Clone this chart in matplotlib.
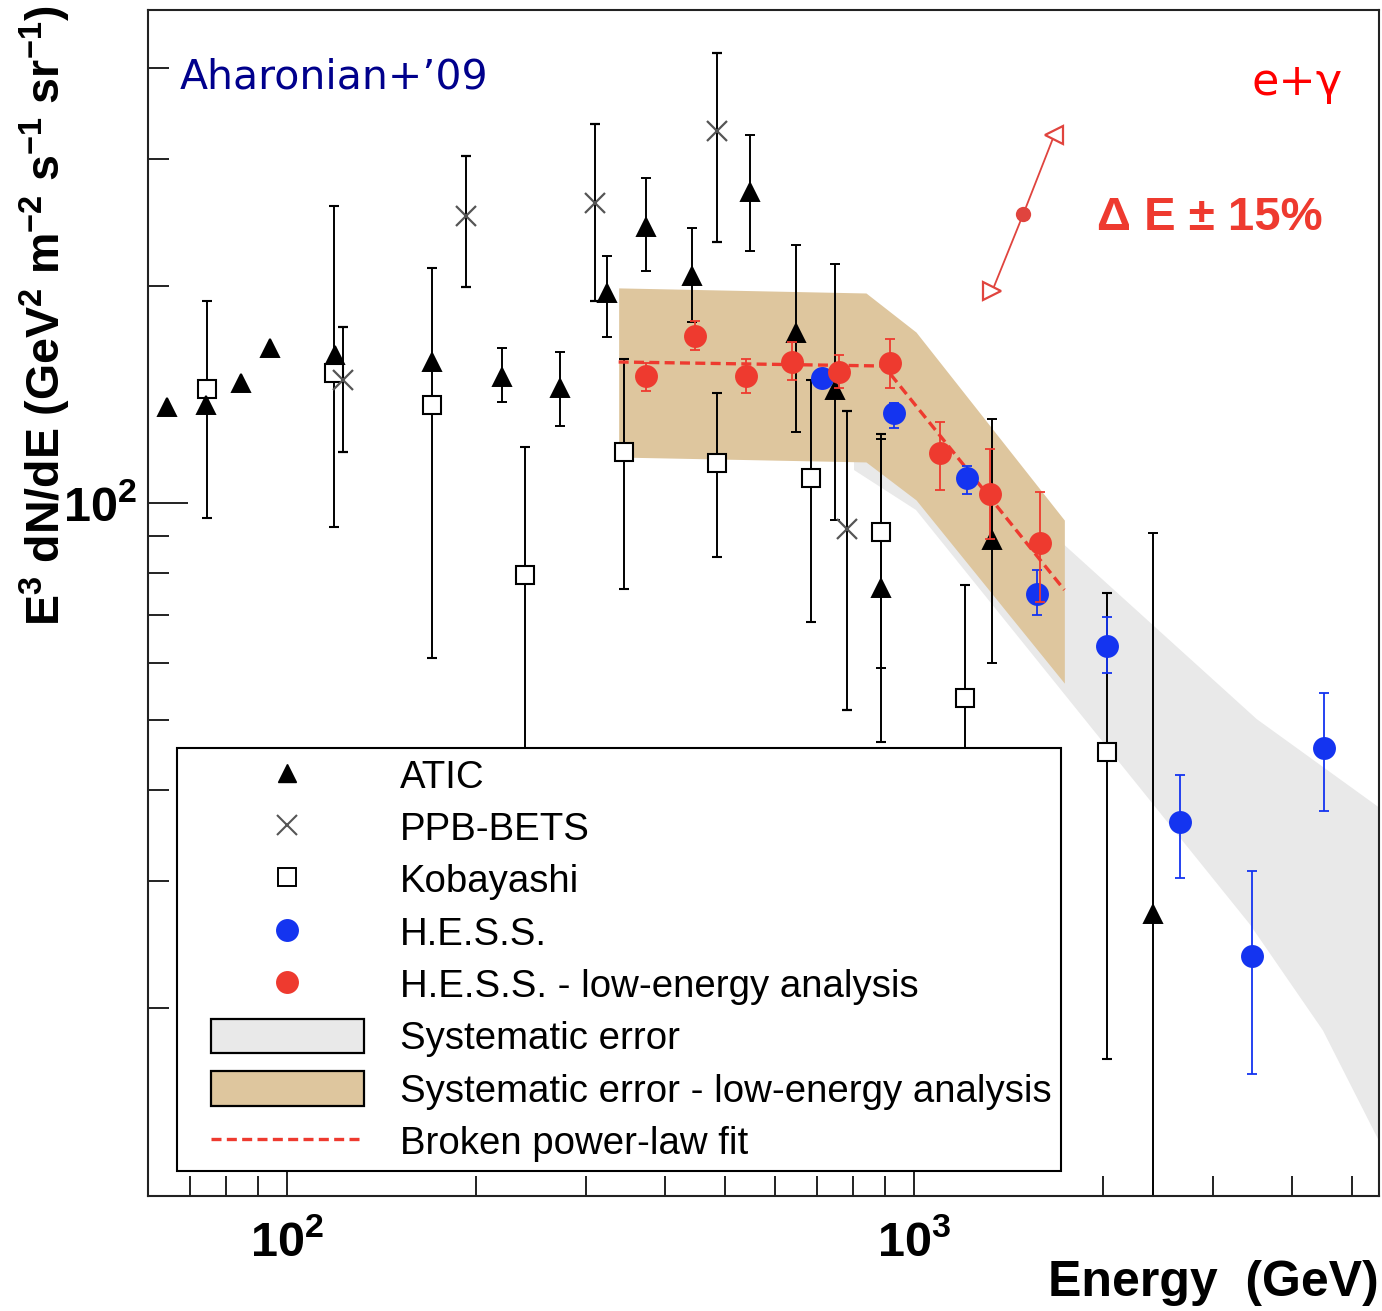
import matplotlib
matplotlib.use("Agg")
import matplotlib.pyplot as plt
import matplotlib.patches as mpatches
from matplotlib.lines import Line2D
from matplotlib.legend_handler import HandlerPatch, HandlerLine2D
from matplotlib.ticker import LogLocator, NullFormatter, FuncFormatter
import numpy as np

plt.rcParams.update({
    "font.family": "Liberation Sans",
    "mathtext.fontset": "custom",
    "mathtext.rm": "Liberation Sans",
    "mathtext.bf": "Liberation Sans:bold",
    "mathtext.it": "Liberation Sans:italic",
})

nan = np.nan

# ATIC
atic_E = [64.3, 74.3, 84.4, 93.9, 119.3, 170.2, 220.6, 272.9, 323.4, 373.2,
          442.0, 547.0, 648.0, 747.6, 885.5, 1332, 2408]
atic_F = [135.8, 136.7, 146.6, 163.9, 160.3, 156.8, 149.5, 144.3, 195.4, 241.2,
          206.3, 269.6, 172.0, 143.4, 76.3, 88.9, 27.0]
atic_lo = [nan, nan, nan, nan, nan, nan, 138.0, 127.8, 169.8, 209.6,
           178.1, 223.4, 125.4, 94.7, 59.1, 60.0, 5.0]
atic_hi = [nan, nan, nan, nan, nan, nan, 163.9, 161.8, 219.8, 281.9,
           240.4, 323.4, 227.7, 214.3, 122.6, 130.7, 90.9]

# PPB-BETS
ppb_E = [122.9, 192.8, 309.4, 485.5, 783]
ppb_F = [148.1, 249.8, 260.4, 327.5, 92.0]
ppb_lo = [117.7, 199.2, 190.5, 229.9, 51.7]
ppb_hi = [175.3, 302.4, 334.9, 420.1, 134.1]

# Kobayashi
kob_E = [74.5, 118.9, 170.2, 239.5, 344.8, 485.5, 684.6, 885.5, 1206, 2030]
kob_F = [143.9, 151.4, 136.7, 79.5, 117.7, 113.6, 108.3, 91.2, 53.7, 45.2]
kob_lo = [95.3, 92.6, 61.0, 20.0, 76.0, 84.2, 68.4, 46.7, 20.0, 17.0]
kob_hi = [190.5, 257.9, 211.6, 119.6, 158.3, 142.1, 148.1, 124.6, 77.0, 75.0]

# H.E.S.S.
hess_E = [712.8, 929, 1215, 1572, 2030, 2651, 3454, 4503]
hess_F = [149.0, 133.2, 108.3, 74.8, 63.4, 36.2, 23.6, 45.8]
hess_lo = [145.7, 127.0, 102.9, 70.0, 58.2, 30.2, 16.2, 37.4]
hess_hi = [152.3, 137.6, 112.5, 80.8, 69.5, 42.0, 30.9, 54.6]

# H.E.S.S. low-energy analysis
low_E = [373.2, 446.9, 539.0, 638.6, 759, 915.6, 1100, 1322, 1590]
low_F = [149.9, 170.3, 149.9, 156.8, 151.9, 156.3, 117.3, 102.9, 88.0]
low_lo = [142.9, 162.9, 142.0, 148.1, 144.3, 144.3, 104.2, 89.2, 72.9]
low_hi = [156.3, 178.7, 158.3, 167.1, 160.3, 168.7, 129.5, 118.8, 103.6]

# broken power-law fit
fit_E = [338, 895, 1736]
fit_F = [156.8, 154.8, 75.8]

# systematic band (H.E.S.S.)
sys_up_E = [802, 1007, 1736, 3518, 5530]
sys_up_F = [138.9, 130.3, 87.5, 50.2, 37.8]
sys_lo_E = [802, 1007, 3429, 4486, 5530]
sys_lo_F = [111.1, 97.8, 26.1, 18.6, 13.0]

# systematic band (low-energy analysis)
tan_E = [338, 838, 1007, 1736]
tan_up = [198.6, 195.4, 172.5, 94.7]
tan_lo = [115.8, 114.0, 101.0, 56.3]

# energy-scale arrow: -15%, nominal, +15%
de_E = [1332, 1493, 1673]
de_F = [196.6, 251.3, 323.4]

RED = "#ee3a2f"
BLUE = "#1434f0"
TAN = "#dec69e"
GREY = "#e9e9e9"


def yerr(F, lo, hi):
    F = np.asarray(F, float)
    return [F - np.asarray(lo, float), np.asarray(hi, float) - F]


fig = plt.figure(figsize=(13.82, 13.11), dpi=100)
ax = fig.add_axes([148 / 1382, 1 - 1196 / 1311, 1231 / 1382, 1186 / 1311])
ax.set_xscale("log")
ax.set_yscale("log")
ax.set_xlim(60.05, 5511)
ax.set_ylim(10.97, 481.8)

# bands
ax.fill(list(sys_up_E) + list(sys_lo_E[::-1]), list(sys_up_F) + list(sys_lo_F[::-1]),
        color=GREY, lw=0, zorder=0.5)
ax.fill_between(tan_E, tan_lo, tan_up, color=TAN, lw=0, zorder=0.6)

# note: mew also sets the cap thickness in errorbar
eb = dict(elinewidth=1.4, capsize=3.6, ls="none")
ax.errorbar(kob_E, kob_F, yerr=yerr(kob_F, kob_lo, kob_hi), fmt="s", ms=13.5,
            mfc="white", mec="black", mew=1.5, ecolor="black", **eb)
ax.errorbar(atic_E, atic_F, yerr=yerr(atic_F, atic_lo, atic_hi), fmt="^", ms=13,
            color="black", mew=1.4, ecolor="black", **eb)
ax.errorbar(ppb_E, ppb_F, yerr=yerr(ppb_F, ppb_lo, ppb_hi), fmt="x", ms=15,
            mec="#555555", mew=1.6, ecolor="black", **eb)

ax.plot(fit_E, fit_F, color=RED, lw=2.4, ls=(0, (3, 1.6)), zorder=2.5)

ebc = dict(elinewidth=1.3, capsize=3.8, ls="none")
ax.errorbar(hess_E, hess_F, yerr=yerr(hess_F, hess_lo, hess_hi), fmt="o", ms=15.2,
            mew=1.3, color=BLUE, ecolor=BLUE, zorder=3, **ebc)
ax.errorbar(low_E, low_F, yerr=yerr(low_F, low_lo, low_hi), fmt="o", ms=15.2,
            mew=1.3, color=RED, ecolor=RED, zorder=3.2, **ebc)

# energy scale uncertainty marker
DE_C = "#e0443e"
ax.plot(de_E, de_F, color=DE_C, lw=1.3, zorder=3)
ax.plot(de_E[1], de_F[1], "o", ms=11, color=DE_C, mew=0, zorder=4)
ax.plot(de_E[0], de_F[0], ">", ms=13, mfc="white", mec=DE_C, mew=1.6, zorder=4)
ax.plot(de_E[2], de_F[2], "<", ms=13, mfc="white", mec=DE_C, mew=1.6, zorder=4)

ax.text(0.7709, 0.8145, "Δ E ± 15%", transform=ax.transAxes, fontsize=34,
        fontweight="bold", color=RED, va="baseline", ha="left")
ax.text(0.026, 0.9342, "Aharonian+’09", transform=ax.transAxes, fontsize=29.5,
        family="DejaVu Sans", color="#00008c", va="baseline", ha="left")
ax.text(0.9708, 0.9283, "e+γ", transform=ax.transAxes, fontsize=32,
        family="DejaVu Sans", color="#ff0000", va="baseline", ha="right")

# axes styling
for sp in ax.spines.values():
    sp.set_linewidth(1.5)
    sp.set_color("#222222")
ax.xaxis.set_major_locator(LogLocator(base=10))
ax.yaxis.set_major_locator(LogLocator(base=10))
ax.xaxis.set_minor_locator(LogLocator(base=10, subs=np.arange(2, 10)))
ax.yaxis.set_minor_locator(LogLocator(base=10, subs=np.arange(2, 10)))
fmt = FuncFormatter(lambda v, p: r"$\mathbf{10^{%d}}$" % int(round(np.log10(v))))
ax.xaxis.set_major_formatter(fmt)
ax.yaxis.set_major_formatter(fmt)
ax.xaxis.set_minor_formatter(NullFormatter())
ax.yaxis.set_minor_formatter(NullFormatter())
ax.tick_params(which="both", direction="in", top=False, right=False, width=1.4,
               color="#222222", labelsize=35)
ax.tick_params(axis="x", which="major", length=20, pad=17)
ax.tick_params(axis="x", which="minor", length=14.4)
ax.tick_params(axis="y", which="major", length=28.8, pad=8)
ax.tick_params(axis="y", which="minor", length=15)

ax.set_ylabel(r"$\mathbf{E^{3}\ dN/dE\ (GeV^{2}\ m^{-2}\ s^{-1}\ sr^{-1})}$",
              fontsize=33.5, loc="top")
ax.yaxis.set_label_coords(-0.0837, 1.0042)
ax.yaxis.label.set_va("center")
ax.set_xlabel("Energy  (GeV)", fontsize=36, fontweight="bold", loc="right")
ax.xaxis.set_label_coords(1.0, -0.0734)
ax.xaxis.label.set_va("center")

# legend
INSET = 17.6  # points


def inset_rect(legend, orig_handle, xdescent, ydescent, width, height, fontsize):
    return mpatches.Rectangle((-xdescent + INSET, -ydescent), width - 2 * INSET, height)


h_atic = Line2D([], [], ls="none", marker="^", color="black", ms=13)
h_ppb = Line2D([], [], ls="none", marker="x", color="#555555", ms=15, mew=1.5)
h_kob = Line2D([], [], ls="none", marker="s", mfc="white", mec="black", ms=13.5, mew=1.4)
h_hess = Line2D([], [], ls="none", marker="o", color=BLUE, ms=15.2, mew=1.3)
h_low = Line2D([], [], ls="none", marker="o", color=RED, ms=15.2, mew=1.3)
h_sys = mpatches.Patch(fc=GREY, ec="black", lw=1.6)
h_tan = mpatches.Patch(fc=TAN, ec="black", lw=1.6)
h_fit = Line2D([], [], color=RED, lw=2.4, ls=(0, (3, 1.6)))

FS = 27.6
leg = ax.legend(
    [h_atic, h_ppb, h_kob, h_hess, h_low, h_sys, h_tan, h_fit],
    ["ATIC", "PPB-BETS", "Kobayashi", "H.E.S.S.", "H.E.S.S. - low-energy analysis",
     "Systematic error", "Systematic error - low-energy analysis", "Broken power-law fit"],
    loc="upper left", bbox_to_anchor=(0.0236, 0.3777), borderaxespad=0,
    borderpad=0.25, labelspacing=0.365, handlelength=5.26, handleheight=1.0,
    handletextpad=0.3, fontsize=FS, fancybox=False, framealpha=1,
    edgecolor="black", numpoints=1,
    handler_map={mpatches.Patch: HandlerPatch(patch_func=inset_rect),
                 h_fit: HandlerLine2D(numpoints=2, marker_pad=INSET / FS)},
)
leg.get_frame().set_linewidth(1.5)

fig.savefig("out.png", dpi=100)
